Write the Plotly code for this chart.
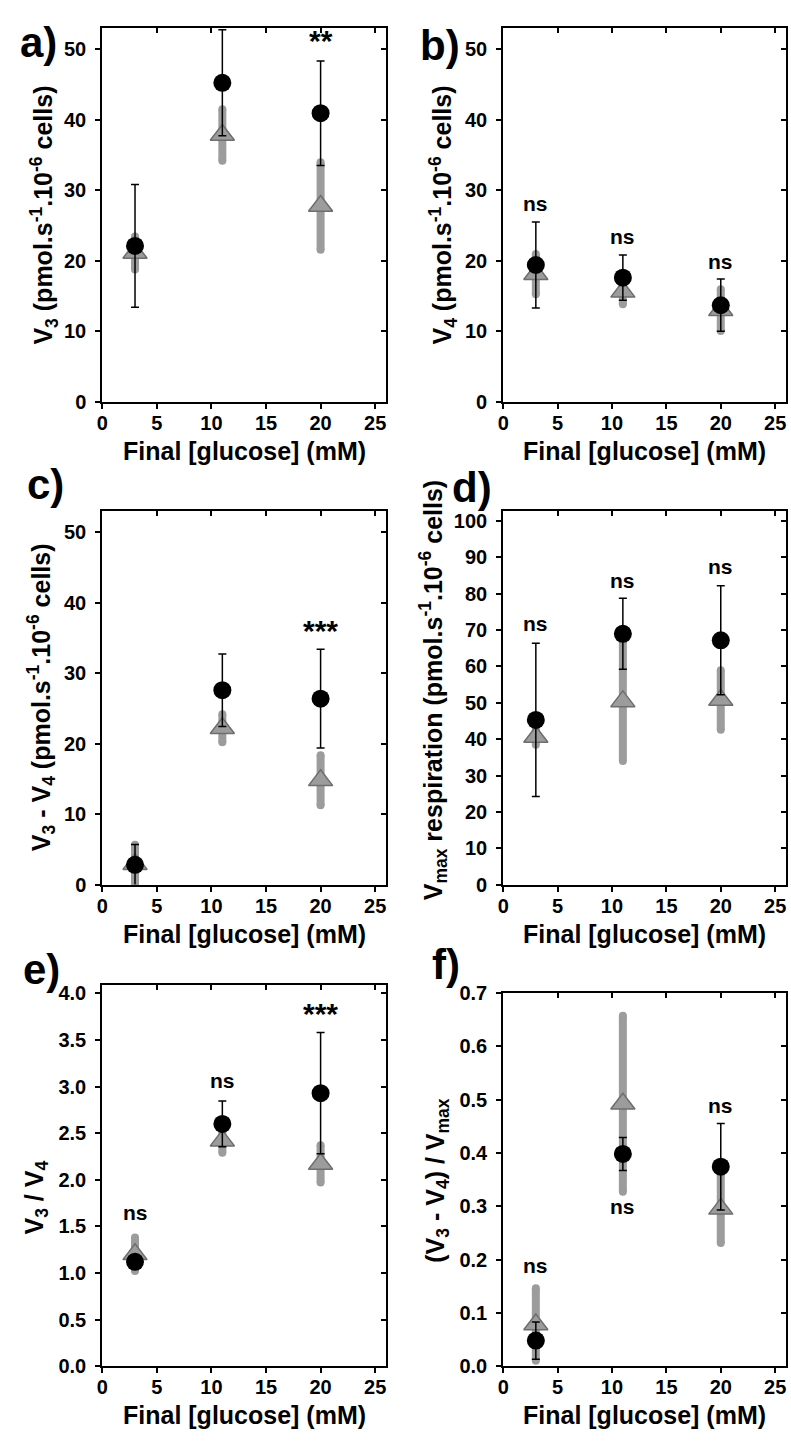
import plotly.graph_objects as go

W, H = 791, 1453
FONT = "Liberation Sans, Arial, sans-serif"

# ---------------- data ----------------
glucose = [3, 11, 20]

# a) V3
a_black = [22.1, 45.2, 40.9]
a_black_err = [8.7, 7.5, 7.4]
a_gray = [21.1, 37.8, 27.75]
a_gray_err = [2.35, 3.65, 6.2]

# b) V4
b_black = [19.4, 17.6, 13.7]
b_black_err = [6.1, 3.2, 3.7]
b_gray = [18.1, 15.6, 13.0]
b_gray_err = [2.85, 1.75, 2.95]

# c) V3 - V4
c_black = [2.8, 27.6, 26.4]
c_black_err = [2.9, 5.15, 7.0]
c_gray = [2.9, 22.2, 14.8]
c_gray_err = [2.75, 2.0, 3.55]

# d) Vmax respiration
d_black = [45.3, 69.0, 67.2]
d_black_err = [21.1, 9.75, 15.0]
d_gray = [40.6, 50.4, 50.8]
d_gray_err = [2.1, 16.4, 8.2]

# e) V3 / V4
e_black = [1.12, 2.60, 2.93]
e_black_err = [0.04, 0.245, 0.65]
e_gray = [1.20, 2.42, 2.17]
e_gray_err = [0.18, 0.13, 0.20]

# f) (V3 - V4) / Vmax
f_black = [0.048, 0.398, 0.374]
f_black_err = [0.035, 0.031, 0.081]
f_gray = [0.078, 0.492, 0.295]
f_gray_err = [0.068, 0.165, 0.064]

# significance labels: (x, y, text)
a_sig = [(20, 50.2, "**")]
b_sig = [(3, 27.3, "ns"), (11, 22.6, "ns"), (20, 19.1, "ns")]
c_sig = [(20, 35.1, "***")]
d_sig = [(3, 70.1, "ns"), (11, 82.1, "ns"), (20, 86.0, "ns")]
e_sig = [(3, 1.58, "ns"), (11, 3.0, "ns"), (20, 3.71, "***")]
f_sig = [(3, 0.178, "ns"), (11, 0.289, "ns"), (20, 0.477, "ns")]

panel_labels = ["a)", "b)", "c)", "d)", "e)", "f)"]
y_titles = [
    "V<sub>3</sub> (pmol.s<sup>-1</sup>.10<sup>-6</sup> cells)",
    "V<sub>4</sub> (pmol.s<sup>-1</sup>.10<sup>-6</sup> cells)",
    "V<sub>3</sub> - V<sub>4</sub> (pmol.s<sup>-1</sup>.10<sup>-6</sup> cells)",
    "V<sub>max</sub> respiration (pmol.s<sup>-1</sup>.10<sup>-6</sup> cells)",
    "V<sub>3</sub> / V<sub>4</sub>",
    "(V<sub>3</sub> - V<sub>4</sub>) / V<sub>max</sub>",
]
x_title = "Final [glucose] (mM)"

x_range = [0, 26]
y_ranges = [[0, 53], [0, 53], [0, 53], [0, 102.7], [0, 4.09], [0, 0.7]]
y_dticks = [10, 10, 10, 10, 0.5, 0.1]
y_formats = ["d", "d", "d", "d", ".1f", ".1f"]

panels = [
    (a_black, a_black_err, a_gray, a_gray_err, a_sig),
    (b_black, b_black_err, b_gray, b_gray_err, b_sig),
    (c_black, c_black_err, c_gray, c_gray_err, c_sig),
    (d_black, d_black_err, d_gray, d_gray_err, d_sig),
    (e_black, e_black_err, e_gray, e_gray_err, e_sig),
    (f_black, f_black_err, f_gray, f_gray_err, f_sig),
]

# ---------------- layout geometry (window pixels) ----------------
cols = [(97, 383), (501, 786)]
rows = [(17, 397), (17, 397), (508, 887), (508, 887), (989, 1376), (997, 1376)]
label_pos = [(33, 32), (437, 35), (40, 481), (470, 484), (36, 973), (443, 968)]
ytitle_pos = [(38, 207), (440, 207), (36, 697), (430, 690), (30, 1205), (434, 1187)]
xtitle_off = 50


def fx(p):
    return p / W


def fy(p):
    return 1 - p / H


fig = go.Figure()
layout = dict(
    width=W, height=H, margin=dict(l=0, r=0, t=0, b=0),
    plot_bgcolor="white", paper_bgcolor="white", showlegend=False,
    font=dict(family=FONT, color="black"),
)
annotations = []

GRAY = "#9c9c9c"
BAR_W = 8
tickfont = dict(family=FONT, size=20, color="black", weight="bold")

for i, (blk, blk_e, gry, gry_e, sig) in enumerate(panels):
    n = i + 1
    no = n + 6
    c0, c1 = cols[i % 2]
    r0, r1 = rows[i]
    xs = "" if n == 1 else str(n)
    xd = [fx(c0), fx(c1)]
    yd = [fy(r1), fy(r0)]

    common = dict(showgrid=False, zeroline=False, linecolor="black", linewidth=2,
                  tickcolor="black", tickwidth=1.5, ticklen=5, tickfont=tickfont)
    layout["xaxis" + xs] = dict(domain=xd, anchor="y" + xs, range=x_range, dtick=5, tick0=0,
                               ticks="outside", showline=True, mirror=True,
                               ticklabelstandoff=-3, **common)
    layout["yaxis" + xs] = dict(domain=yd, anchor="x" + xs, range=y_ranges[i], dtick=y_dticks[i],
                               tick0=0, tickformat=y_formats[i], ticks="outside", showline=True,
                               mirror=True, ticklabelstandoff=5, **common)
    layout["xaxis" + str(no)] = dict(domain=xd, anchor="y" + xs, overlaying="x" + xs, side="top",
                                     range=x_range, dtick=5, tick0=0, ticks="inside",
                                     showticklabels=False, showline=False, showgrid=False,
                                     zeroline=False, tickcolor="black", tickwidth=1.5, ticklen=5)
    layout["yaxis" + str(no)] = dict(domain=yd, anchor="x" + xs, overlaying="y" + xs, side="right",
                                     range=y_ranges[i], dtick=y_dticks[i], tick0=0, ticks="inside",
                                     showticklabels=False, showline=False, showgrid=False,
                                     zeroline=False, tickcolor="black", tickwidth=1.5, ticklen=5)

    # empty traces so the mirrored inside-tick axes render
    fig.add_trace(go.Scatter(x=[None], y=[None], xaxis="x" + str(no), yaxis="y" + xs,
                             hoverinfo="skip", mode="markers"))
    fig.add_trace(go.Scatter(x=[None], y=[None], xaxis="x" + xs, yaxis="y" + str(no),
                             hoverinfo="skip", mode="markers"))

    # rounded ends of the thick gray bars
    cap_x = [g for g in glucose for _ in (0, 1)]
    cap_y = [v for m, e in zip(gry, gry_e) for v in (m - e, m + e)]
    fig.add_trace(go.Scatter(
        x=cap_x, y=cap_y, mode="markers", xaxis="x" + xs, yaxis="y" + xs, hoverinfo="skip",
        marker=dict(symbol="circle", size=BAR_W, color=GRAY, line=dict(width=0)),
    ))
    # gray series: thick bars + triangles
    fig.add_trace(go.Scatter(
        x=glucose, y=gry, mode="markers", xaxis="x" + xs, yaxis="y" + xs,
        marker=dict(symbol="triangle-up", size=21, color=GRAY,
                    line=dict(color="#6e6e6e", width=1.5)),
        error_y=dict(type="data", array=gry_e, visible=True, color=GRAY,
                     thickness=BAR_W, width=0),
    ))
    # black series: thin bars + circles
    fig.add_trace(go.Scatter(
        x=glucose, y=blk, mode="markers", xaxis="x" + xs, yaxis="y" + xs,
        marker=dict(symbol="circle", size=18, color="black"),
        error_y=dict(type="data", array=blk_e, visible=True, color="black",
                     thickness=1.5, width=4),
    ))

    for (sx, sy, st) in sig:
        star = "*" in st
        annotations.append(dict(
            x=sx, y=sy, xref="x" + xs, yref="y" + xs, text=st, showarrow=False,
            xanchor="center", yanchor="middle", yshift=7 if star else 6,
            font=dict(family=FONT, size=30 if star else 21, color="black", weight="bold"),
        ))

    # panel label
    lx, ly = label_pos[i]
    annotations.append(dict(x=fx(lx), y=fy(ly), xref="paper", yref="paper", text=panel_labels[i],
                            showarrow=False, xanchor="center", yanchor="middle",
                            font=dict(family=FONT, size=42, color="black", weight="bold")))
    # y title
    tx, ty = ytitle_pos[i]
    annotations.append(dict(x=fx(tx), y=fy(ty), xref="paper", yref="paper", text=y_titles[i],
                            showarrow=False, xanchor="center", yanchor="middle", textangle=-90,
                            font=dict(family=FONT, size=25, color="black", weight="bold")))
    # x title
    annotations.append(dict(x=fx((c0 + c1) / 2), y=fy(r1 + xtitle_off), xref="paper", yref="paper",
                            text=x_title, showarrow=False, xanchor="center", yanchor="middle",
                            font=dict(family=FONT, size=25, color="black", weight="bold")))

layout["annotations"] = annotations
fig.update_layout(**layout)
# remove the default page margin so the figure sits exactly at the window's corner
fig.write_html("out.html", config={"displayModeBar": False},
               post_script="document.body.style.margin='0';document.body.style.overflow='hidden';")
